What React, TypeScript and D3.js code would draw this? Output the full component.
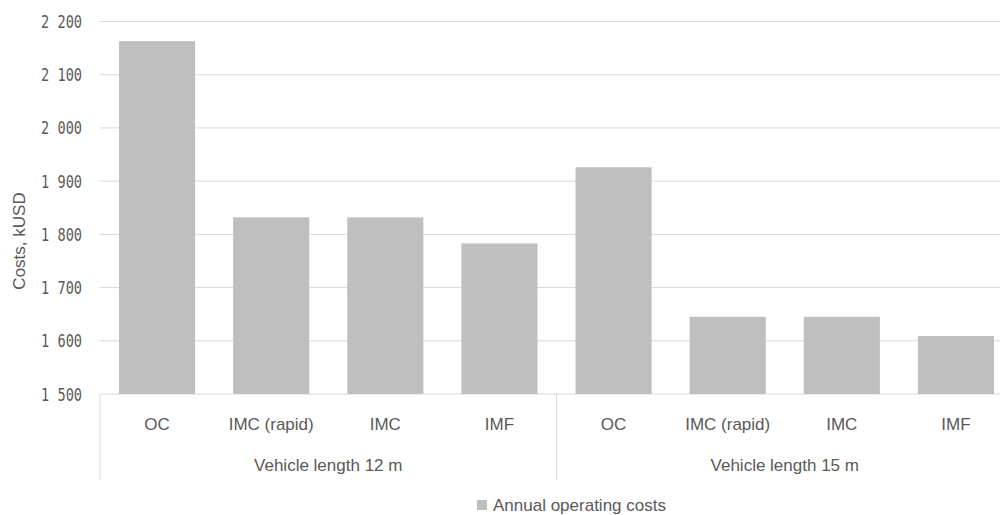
import React from "react";
import * as d3 from "d3";

const categories = ["OC", "IMC (rapid)", "IMC", "IMF", "OC", "IMC (rapid)", "IMC", "IMF"];
const groups = ["Vehicle length 12 m", "Vehicle length 15 m"];
const groupSizes = [4, 4];
const annualOperatingCosts = [2163, 1832, 1832, 1783, 1926, 1645, 1645, 1609];
const yTicks = [1500, 1600, 1700, 1800, 1900, 2000, 2100, 2200];
const seriesName = "Annual operating costs";

const W = 1000;
const H = 515;
const left = 100;
const right = 1013;
const top = 21.5;
const bottom = 394;

const fmt = (v: number) => d3.format(",")(v).replace(/,/g, " ");

export default function App() {
  const idx = categories.map((_, i) => i);
  const x = d3
    .scaleBand<number>()
    .domain(idx)
    .range([left, right])
    .paddingInner(1 / 3)
    .paddingOuter(1 / 6);
  const y = d3.scaleLinear().domain([1500, 2200]).range([bottom, top]);
  const step = x.step();

  // group boundaries
  const bounds: number[] = [left];
  let acc = 0;
  groupSizes.forEach((n) => {
    acc += n;
    bounds.push(left + acc * step);
  });

  const grid = "#d9d9d9";
  const textCol = "#595959";

  return (
    <svg
      width={W}
      height={H}
      style={{ position: "absolute", left: 0, top: 0, background: "#fff" }}
    >
      {yTicks.map((t) => (
        <line
          key={"g" + t}
          x1={left}
          x2={W}
          y1={y(t)}
          y2={y(t)}
          stroke={grid}
          strokeWidth={1}
        />
      ))}
      {yTicks.map((t) => (
        <text
          key={"t" + t}
          transform={`translate(82,${y(t) + 6.5}) scale(0.8,1)`}
          textAnchor="end"
          fontFamily="'DejaVu Sans Mono', monospace"
          fontSize={17}
          fill={textCol}
        >
          {fmt(t)}
        </text>
      ))}
      {annualOperatingCosts.map((v, i) => (
        <rect
          key={"b" + i}
          x={x(i)}
          y={y(v)}
          width={x.bandwidth()}
          height={y(1500) - y(v)}
          fill="#bfbfbf"
        />
      ))}
      {bounds.map((b, i) => (
        <line key={"s" + i} x1={b} x2={b} y1={bottom} y2={480} stroke={grid} strokeWidth={1} />
      ))}
      {categories.map((c, i) => (
        <text
          key={"c" + i}
          x={(x(i) as number) + x.bandwidth() / 2}
          y={430}
          textAnchor="middle"
          fontFamily="'Liberation Sans', Arial, sans-serif"
          fontSize={17}
          fill={textCol}
        >
          {c}
        </text>
      ))}
      {groups.map((g, i) => (
        <text
          key={"gr" + i}
          x={(bounds[i] + bounds[i + 1]) / 2}
          y={471}
          textAnchor="middle"
          fontFamily="'Liberation Sans', Arial, sans-serif"
          fontSize={17}
          fill={textCol}
        >
          {g}
        </text>
      ))}
      <text
        transform={`translate(25,241) rotate(-90)`}
        textAnchor="middle"
        fontFamily="'Liberation Sans', Arial, sans-serif"
        fontSize={17}
        fill={textCol}
      >
        Costs, kUSD
      </text>
      <rect x={477} y={500} width={10} height={10} fill="#bfbfbf" />
      <text
        x={493}
        y={510.5}
        fontFamily="'Liberation Sans', Arial, sans-serif"
        fontSize={17}
        fill={textCol}
      >
        {seriesName}
      </text>
    </svg>
  );
}
